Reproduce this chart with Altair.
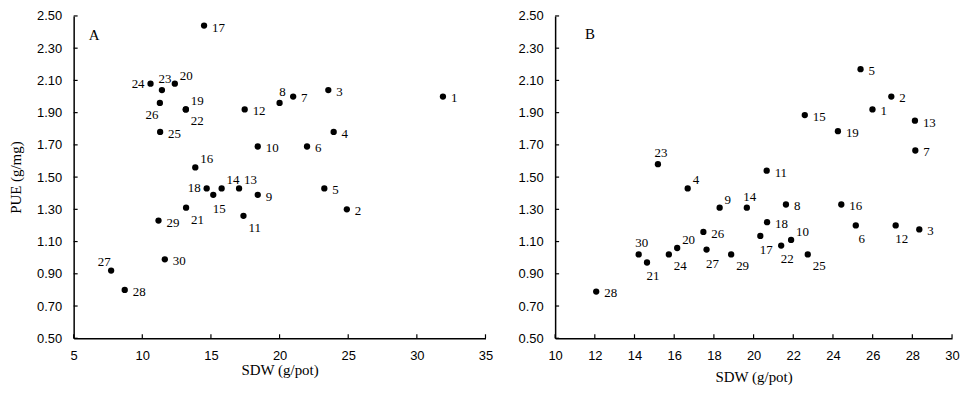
import altair as alt
import pandas as pd

# ---- Panel A data ----
a_id = list(range(1, 31))
a_sdw = [31.9, 24.9, 23.55, 23.94, 23.26, 22.0, 20.99, 20.0, 18.41, 18.41,
         17.37, 17.46, 17.05, 15.78, 15.17, 13.86, 14.5, 14.69, 13.17, 12.37,
         13.19, 13.17, 11.43, 10.6, 11.3, 11.28, 7.73, 8.72, 11.18, 11.64]
a_pue = [2.00, 1.30, 2.04, 1.78, 1.43, 1.69, 2.00, 1.96, 1.39, 1.69,
         1.26, 1.92, 1.43, 1.43, 1.39, 1.56, 2.44, 1.43, 1.92, 2.08,
         1.31, 1.92, 2.04, 2.08, 1.78, 1.96, 0.92, 0.80, 1.23, 0.99]
a_lab = ["r", "r", "r", "r", "r", "r", "r", "u", "r", "r",
         "lr", "r", "ur", "ur", "b", "ur", "r", "l", "ur", "ur",
         "lr", "lr", "u", "l", "r", "ll", "ul", "r", "r", "r"]

# ---- Panel B data ----
b_id = list(range(1, 31))
b_sdw = [25.99, 26.94, 28.35, 16.68, 25.39, 25.15, 28.15, 21.63, 18.29, 21.89,
         20.66, 27.16, 28.13, 19.66, 22.58, 24.42, 20.34, 20.68, 24.25, 16.15,
         14.63, 21.39, 15.18, 15.73, 22.73, 17.47, 17.63, 12.07, 18.87, 14.21]
b_pue = [1.92, 2.00, 1.175, 1.43, 2.17, 1.20, 1.665, 1.33, 1.31, 1.11,
         1.54, 1.20, 1.85, 1.31, 1.885, 1.33, 1.135, 1.22, 1.785, 1.06,
         0.97, 1.075, 1.58, 1.02, 1.02, 1.16, 1.05, 0.79, 1.02, 1.02]
b_lab = ["r", "r", "r", "ur", "r", "b", "r", "r", "ur", "ur",
         "r", "b", "r", "u", "r", "r", "b", "r", "r", "ur",
         "b", "b", "u", "lr", "lr", "r", "b", "r", "lr", "u"]

y_ticks = [0.5, 0.7, 0.9, 1.1, 1.3, 1.5, 1.7, 1.9, 2.1, 2.3, 2.5]
a_x_ticks = [5, 10, 15, 20, 25, 30, 35]
b_x_ticks = [10, 12, 14, 16, 18, 20, 22, 24, 26, 28, 30]

# label placement styles: (align, dx, dy)
PLACE = {
    "r": ("left", 8, 2),
    "l": ("right", -6, 0),
    "u": ("center", 3, -11),
    "ur": ("left", 5, -8),
    "lr": ("left", 5, 12),
    "b": ("center", 6, 14),
    "ll": ("center", -8, 12),
    "ul": ("center", -7, -9),
}

SERIF = "Liberation Serif"
SANS = "Liberation Sans"
H = 324


def panel(ids, xs, ys, labs, xdom, xticks, letter, letter_xy, width, ytitle, title_pad):
    df = pd.DataFrame({"id": [str(i) for i in ids], "sdw": xs, "pue": ys, "pos": labs})
    xsc = alt.Scale(domain=xdom, nice=False, zero=False)
    ysc = alt.Scale(domain=[0.5, 2.5], nice=False, zero=False)
    xax = alt.Axis(values=xticks, ticks=False, labelPadding=11, labelFont=SANS,
                   labelFontSize=13, labelColor="black", title="SDW (g/pot)",
                   titleFont=SERIF, titleFontSize=15, titleFontWeight="normal",
                   titleColor="black", titlePadding=title_pad, domainColor="black",
                   domainWidth=1.5, grid=False, labelFlush=False, labelOverlap=False)
    yargs = dict(values=y_ticks, format=".2f", ticks=False, labelPadding=12,
                 labelFont=SANS, labelFontSize=13, labelColor="black",
                 domainColor="black", domainWidth=1.5, grid=False,
                 labelFlush=False, labelOverlap=False)
    if ytitle:
        yax = alt.Axis(title=ytitle, titleFont=SERIF, titleFontSize=15,
                       titleFontWeight="normal", titleColor="black",
                       titlePadding=13, **yargs)
    else:
        yax = alt.Axis(title=None, **yargs)

    X = lambda f: alt.X(f, scale=xsc, axis=xax)
    Y = lambda f: alt.Y(f, scale=ysc, axis=yax)

    pts = alt.Chart(df).mark_circle(size=40, fill="black", color="black", opacity=1).encode(
        x=X("sdw:Q"), y=Y("pue:Q"),
    )
    layers = [pts]
    for code, (align, dx, dy) in PLACE.items():
        layers.append(
            alt.Chart(df).transform_filter(alt.datum.pos == code).mark_text(
                font=SERIF, fontSize=13, fill="black", color="black", align=align,
                baseline="middle", dx=dx, dy=dy,
            ).encode(x=X("sdw:Q"), y=Y("pue:Q"), text=alt.Text("id:N"))
        )
    # inward tick marks
    ytk = pd.DataFrame({"pue": y_ticks})
    layers.append(alt.Chart(ytk).mark_rule(color="black", strokeWidth=1.2).encode(
        y=Y("pue:Q"), x=alt.value(0), x2=alt.value(4)))
    xtk = pd.DataFrame({"sdw": xticks})
    layers.append(alt.Chart(xtk).mark_rule(color="black", strokeWidth=1.2).encode(
        x=X("sdw:Q"), y=alt.value(H), y2=alt.value(H - 4)))
    # panel letter
    let = pd.DataFrame({"t": [letter], "sdw": [letter_xy[0]], "pue": [letter_xy[1]]})
    layers.append(alt.Chart(let).mark_text(font=SERIF, fontSize=15, fill="black",
                                           align="center", baseline="middle").encode(
        x=X("sdw:Q"), y=Y("pue:Q"), text="t:N"))
    return alt.layer(*layers).properties(width=width, height=H)


pa = panel(a_id, a_sdw, a_pue, a_lab, [5, 35], a_x_ticks, "A", (6.5, 2.38), 414, "PUE (g/mg)", 0)
pb = panel(b_id, b_sdw, b_pue, b_lab, [10, 30], b_x_ticks, "B", (11.75, 2.39), 399, None, 7)

chart = alt.hconcat(pa, pb, spacing=24).properties(
    padding={"left": 0, "top": 1, "right": 0, "bottom": 0},
    background="white",
).configure_view(stroke=None).configure_axis(labelOverlap=False)

chart.save("out.html", embed_options={"renderer": "svg", "actions": False})
